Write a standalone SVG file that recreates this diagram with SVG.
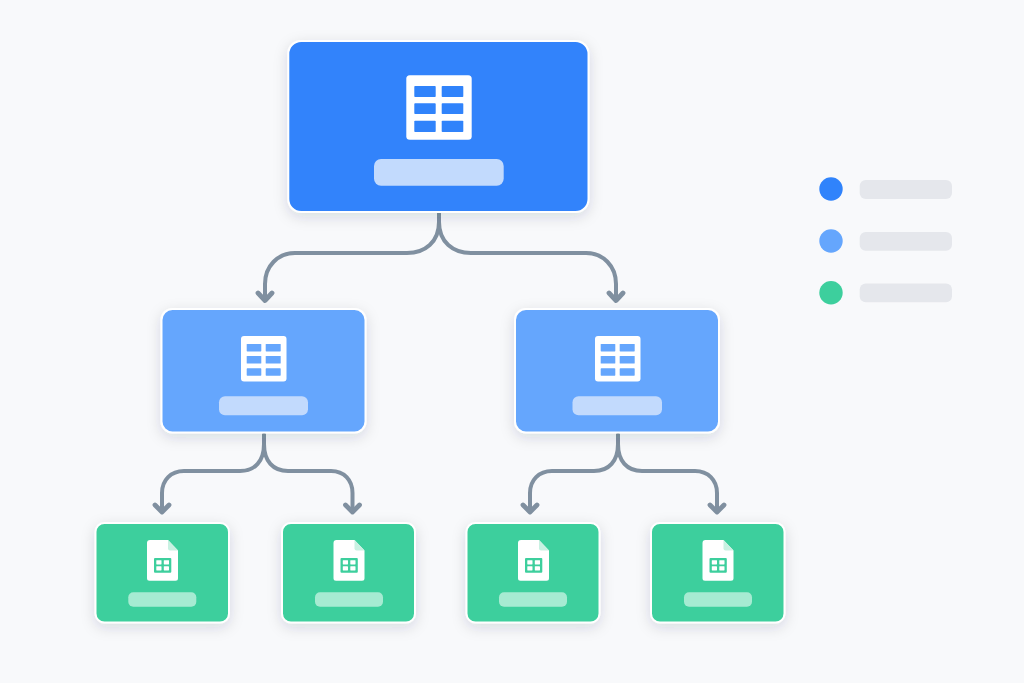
<svg xmlns="http://www.w3.org/2000/svg" width="1024" height="683" viewBox="0 0 1024 683">
<style>
.card{stroke:#fff;stroke-width:2;filter:url(#sh)}
.c1{fill:#3083fb}.c2{fill:#65a6fd}.c3{fill:#3dcf9d}
.lb1,.lb2{fill:#c2dafd}.lb3{fill:#a6ebd2}
.bar{fill:#e5e7ec}
.wire{fill:none;stroke:#8090a0;stroke-width:4;stroke-linecap:round;stroke-linejoin:round}
.head{stroke-width:4.8}
.w{fill:#fff}
</style>
<defs>
<filter id="sh" x="-15%" y="-15%" width="130%" height="135%"><feDropShadow dx="0" dy="4" stdDeviation="7" flood-color="#1f2d45" flood-opacity="0.14"/></filter>
<g id="tbl2"><rect class="w" x="0" y="0" width="45.500" height="45.500" rx="3"/>
<g class="c2"><rect x="5.700" y="8" width="14.600" height="7.400" rx="0.600"/><rect x="24.700" y="8" width="15" height="7.400" rx="0.600"/><rect x="5.700" y="20" width="14.600" height="7.600" rx="0.600"/><rect x="24.700" y="20" width="15" height="7.600" rx="0.600"/><rect x="5.700" y="32.300" width="14.600" height="7.400" rx="0.600"/><rect x="24.700" y="32.300" width="15" height="7.400" rx="0.600"/></g></g>
<g id="file"><path class="w" d="M3 0H21L31 10.500V38.200a2.500 2.500 0 0 1-2.500 2.500H2.500a2.500 2.500 0 0 1-2.500-2.500V3a3 3 0 0 1 3-3z"/><path d="M21 0L31 10.500H23a2 2 0 0 1-2-2z" fill="#c9f1e2"/>
<rect x="7" y="18" width="17.300" height="14.700" rx="1" class="c3"/><g class="w"><rect x="9.300" y="20.200" width="5.200" height="4.200" rx="0.400"/><rect x="16.800" y="20.200" width="5.200" height="4.200" rx="0.400"/><rect x="9.300" y="26.300" width="5.200" height="4.200" rx="0.400"/><rect x="16.800" y="26.300" width="5.200" height="4.200" rx="0.400"/></g></g>
</defs>
<rect width="1024" height="683" fill="#f8f9fb"/>
<g id="connectors" class="wire">
<path d="M439 214V222C439 242 425 253 407 253H295C278 253 265 266 265 284V298"/>
<path d="M439 214V222C439 242 453 253 471 253H586C603 253 616 266 616 284V298"/>
<path class="head" d="M258 293L265 300.500L272 293M609 293L616 300.500L623 293"/>
<path d="M264 435V444C264 461 255 471 240 471H184C171 471 162 480 162 493V510"/>
<path d="M264 435V444C264 461 273 471 288 471H331C344 471 352.500 480 352.500 493V510"/>
<path class="head" d="M155 505L162 512L169 505M345.500 505L352.500 512L359.500 505"/>
<path d="M618 435V444C618 461 609 471 594 471H552C539 471 530 480 530 493V510"/>
<path d="M618 435V444C618 461 627 471 642 471H695C708 471 717 480 717 493V510"/>
<path class="head" d="M523 505L530 512L537 505M710 505L717 512L724 505"/>
</g>
<g id="node-root">
<rect class="card c1" x="288.300" y="41" width="300.200" height="171" rx="13"/>
<rect class="w" x="406.300" y="75.300" width="65.400" height="64.400" rx="3.500"/>
<g class="c1"><rect x="414.300" y="86" width="21.400" height="11" rx="0.800"/><rect x="441.700" y="86" width="21.600" height="11" rx="0.800"/><rect x="414.300" y="103.300" width="21.400" height="10.700" rx="0.800"/><rect x="441.700" y="103.300" width="21.600" height="10.700" rx="0.800"/><rect x="414.300" y="120.700" width="21.400" height="11.300" rx="0.800"/><rect x="441.700" y="120.700" width="21.600" height="11.300" rx="0.800"/></g>
<rect class="lb1" x="374" y="159" width="129.700" height="26.700" rx="7"/>
</g>
<g id="node-mid-1">
<rect class="card c2" x="161.500" y="309" width="204" height="123.500" rx="11"/>
<use href="#tbl2" x="241" y="336"/>
<rect class="lb2" x="219" y="396.300" width="89" height="19" rx="6"/>
</g>
<g id="node-mid-2">
<rect class="card c2" x="515" y="309" width="204" height="123.500" rx="11"/>
<use href="#tbl2" x="595" y="336"/>
<rect class="lb2" x="572.500" y="396.300" width="89.500" height="19" rx="6"/>
</g>
<g id="node-leaf-1">
<rect class="card c3" x="95.500" y="523" width="133.500" height="99.500" rx="9"/>
<use href="#file" x="147" y="540"/>
<rect class="lb3" x="128.300" y="592.300" width="68" height="14.400" rx="5"/>
</g>
<g id="node-leaf-2">
<rect class="card c3" x="282" y="523" width="133" height="99.500" rx="9"/>
<use href="#file" x="333.500" y="540"/>
<rect class="lb3" x="315" y="592.300" width="68" height="14.400" rx="5"/>
</g>
<g id="node-leaf-3">
<rect class="card c3" x="466.500" y="523" width="133" height="99.500" rx="9"/>
<use href="#file" x="518" y="540"/>
<rect class="lb3" x="499" y="592.300" width="68" height="14.400" rx="5"/>
</g>
<g id="node-leaf-4">
<rect class="card c3" x="651" y="523" width="133.500" height="99.500" rx="9"/>
<use href="#file" x="702.500" y="540"/>
<rect class="lb3" x="684" y="592.300" width="68" height="14.400" rx="5"/>
</g>
<g id="legend">
<circle class="c1" cx="831" cy="189" r="11.700"/><rect class="bar" x="859.700" y="180" width="92.300" height="19" rx="6"/>
<circle class="c2" cx="831" cy="241" r="11.700"/><rect class="bar" x="859.700" y="232" width="92.300" height="18.800" rx="6"/>
<circle class="c3" cx="831" cy="292.700" r="11.700"/><rect class="bar" x="859.700" y="283.500" width="92.300" height="18.800" rx="6"/>
</g>
</svg>
